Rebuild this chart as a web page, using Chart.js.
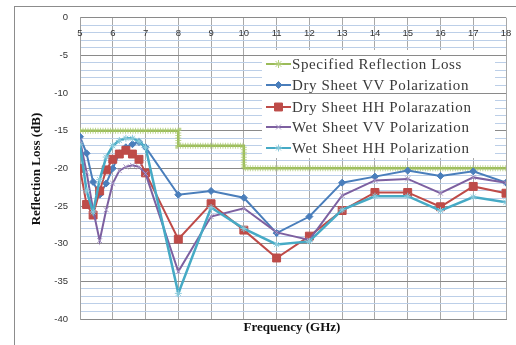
<!DOCTYPE html>
<html>
<head>
<meta charset="utf-8">
<script src="https://cdn.jsdelivr.net/npm/chart.js@4.4.0/dist/chart.umd.min.js"></script>
<style>
  html, body { margin: 0; padding: 0; background: #fff; }
</style>
</head>
<body>
<canvas id="myChart" width="516" height="345"></canvas>
<script>
// frequency points (GHz) - dense sweep 5-7, then 1 GHz steps
const freq = [5, 5.2, 5.4, 5.6, 5.8, 6, 6.2, 6.4, 6.6, 6.8, 7, 8, 9, 10, 11, 12, 13, 14, 15, 16, 17, 18];

// reflection loss (dB)
const dryVV = [-15.8, -18.0, -21.8, -23.5, -22.0, -20.0, -18.0, -17.2, -16.8, -16.5, -17.2,
  -23.5, -23.0, -23.9, -28.6, -26.4, -21.9, -21.1, -20.3, -21.0, -20.4, -21.9];
const dryHH = [-20.0, -24.8, -26.2, -23.0, -20.2, -18.8, -18.1, -17.6, -18.1, -18.8, -20.6,
  -29.4, -24.7, -28.2, -31.9, -29.0, -25.6, -23.2, -23.2, -25.1, -22.4, -23.3];
const wetVV = [-16.3, -20.5, -25.5, -29.6, -25.5, -22.0, -20.3, -19.8, -19.6, -19.8, -20.7,
  -33.7, -26.4, -25.3, -28.5, -29.5, -23.6, -21.6, -21.4, -23.3, -21.2, -21.9];
const wetHH = [-16.8, -23.0, -25.8, -21.5, -18.5, -17.0, -16.3, -16.0, -16.0, -16.4, -17.2,
  -36.6, -25.2, -28.0, -30.1, -29.7, -25.5, -23.7, -23.7, -25.6, -23.8, -24.5];

// specified limit (step)
const specFreq = [5, 8, 8, 10, 10, 18];
const specLoss = [-15, -15, -17, -17, -20, -20];

const xTicks = [5, 6, 7, 8, 9, 10, 11, 12, 13, 14, 15, 16, 17, 18];

const pts = (xs, ys) => xs.map((x, i) => ({ x: x, y: ys[i] }));

const GREEN = '#9BBB59';

function series(label, ys, color, style, radius, fill, order) {
  return {
    label: label,
    data: pts(freq, ys),
    borderColor: color,
    borderWidth: 2,
    pointStyle: style,
    pointRadius: radius,
    pointBackgroundColor: fill,
    pointBorderColor: fill,
    pointBorderWidth: 1,
    tension: 0,
    order: order
  };
}

const datasets = [
  {
    label: 'Specified Reflection Loss',
    data: pts(specFreq, specLoss),
    borderColor: GREEN,
    borderWidth: 2.5,
    pointRadius: 0,
    pointStyle: 'star',
    legendPoint: { radius: 4, color: '#b5d07f' },
    order: 6
  },
  {
    // hatched band over the limit line
    data: pts(specFreq, specLoss),
    borderColor: 'rgba(170,200,110,0.75)',
    borderWidth: 6,
    borderDash: [1, 1.5],
    pointRadius: 0,
    order: 5
  },
  series('Dry Sheet VV Polarization', dryVV, '#4A7EBB', 'rectRot', 3.5, '#4A7EBB', 4),
  series('Dry Sheet HH Polarazation', dryHH, '#BE4B48', 'rect', 5.6, '#BE4B48', 3),
  series('Wet Sheet VV Polarization', wetVV, '#7D60A0', 'crossRot', 3.5, '#A898C6', 2),
  series('Wet Sheet HH Polarization', wetHH, '#46AAC5', 'star', 3.5, '#8CCBDC', 1)
];
datasets[5].borderWidth = 2.5;

const decor = {
  id: 'decor',
  beforeDraw(chart) {
    const ctx = chart.ctx;
    ctx.save();
    ctx.fillStyle = '#fff';
    ctx.fillRect(0, 0, chart.width, chart.height);
    ctx.restore();
  },
  beforeDatasetsDraw(chart) {
    // legend panel hides the light gridlines, the darker ones stay
    const ctx = chart.ctx;
    const ys = chart.scales.y;
    const box = { l: 262, t: 50, r: 495, b: 158 };
    ctx.save();
    ctx.fillStyle = '#fff';
    ctx.fillRect(box.l, box.t, box.r - box.l, box.b - box.t);
    ctx.strokeStyle = '#8a8a8a';
    ctx.lineWidth = 1;
    [-5, -10].forEach(v => {
      const y = Math.round(ys.getPixelForValue(v)) + 0.5;
      ctx.beginPath();
      ctx.moveTo(box.l, y);
      ctx.lineTo(box.r, y);
      ctx.stroke();
    });
    ctx.restore();
  },
  afterDraw(chart) {
    const ctx = chart.ctx;
    const xs = chart.scales.x;
    ctx.save();

    // outer frame
    ctx.strokeStyle = '#8c8c8c';
    ctx.lineWidth = 1;
    ctx.strokeRect(14.5, 6.5, 600, 400);

    // frequency labels sit just under the 0 dB line
    ctx.fillStyle = '#333';
    ctx.font = '9.5px "Liberation Sans"';
    ctx.textAlign = 'center';
    ctx.textBaseline = 'middle';
    xTicks.forEach(v => ctx.fillText(String(v), xs.getPixelForValue(v), 33));

    // axis titles
    ctx.fillStyle = '#111';
    ctx.font = 'bold 13px "Liberation Serif"';
    ctx.fillText('Frequency (GHz)', 292, 328);
    ctx.translate(37, 169);
    ctx.rotate(-Math.PI / 2);
    ctx.fillText('Reflection Loss (dB)', 0, 0);
    ctx.setTransform(1, 0, 0, 1, 0, 0);

    // legend
    const rows = [64, 85, 107, 127, 148];
    const items = chart.data.datasets.filter(d => d.label);
    items.forEach((d, i) => {
      const y = rows[i];
      ctx.strokeStyle = d.borderColor;
      ctx.lineWidth = 2;
      ctx.setLineDash([]);
      ctx.beginPath();
      ctx.moveTo(266, y);
      ctx.lineTo(291, y);
      ctx.stroke();
      const lp = d.legendPoint || { radius: d.pointRadius, color: d.pointBackgroundColor };
      ctx.fillStyle = lp.color;
      ctx.strokeStyle = lp.color;
      ctx.lineWidth = 1;
      Chart.helpers.drawPoint(ctx, { pointStyle: d.pointStyle, radius: lp.radius, rotation: 0, borderWidth: 1 }, 278.5, y);
      ctx.fillStyle = '#3a3a3a';
      ctx.font = '15px "Liberation Serif"';
      ctx.letterSpacing = '0.6px';
      ctx.textAlign = 'left';
      ctx.textBaseline = 'middle';
      ctx.fillText(d.label, 292, y + 1);
    });
    ctx.restore();
  }
};

const ctx = document.getElementById('myChart');

new Chart(ctx, {
  type: 'line',
  data: { datasets: datasets },
  options: {
    responsive: false,
    animation: false,
    devicePixelRatio: 1,
    layout: { padding: { top: 17, right: 10, bottom: 0, left: 0 } },
    plugins: { legend: { display: false }, tooltip: { enabled: false } },
    scales: {
      x: {
        type: 'linear',
        min: 5,
        max: 18,
        ticks: { stepSize: 1, display: false, maxTicksLimit: 20 },
        grid: { color: '#a8a8a8', drawTicks: false },
        border: { color: '#8a8a8a' },
        afterFit: s => { s.height = 26; }
      },
      y: {
        min: -40,
        max: 0,
        ticks: {
          stepSize: 1,
          autoSkip: false,
          maxTicksLimit: 50,
          padding: 12,
          color: '#333',
          font: { family: 'Liberation Sans', size: 9.5 },
          callback: v => (v % 5 === 0 ? String(v) : '')
        },
        grid: {
          drawTicks: false,
          color: c => (c.tick && c.tick.value % 5 === 0 ? '#8a8a8a' : '#bccfe8')
        },
        border: { color: '#a0a0a0' },
        afterFit: s => { s.width = 80; }
      }
    }
  },
  plugins: [decor]
});
</script>
</body>
</html>
